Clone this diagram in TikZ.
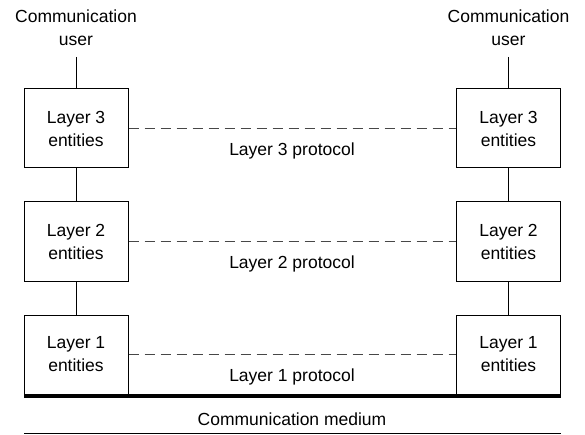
\documentclass[tikz,border=0pt]{standalone}
\usepackage{fontspec}
\setmainfont{Liberation Sans}
\begin{document}
\begin{tikzpicture}[x=1pt,y=-1pt,
  every node/.style={font=\fontsize{17.5}{23}\selectfont, align=center},
  entity/.style={draw, line width=1pt, minimum width=104pt, minimum height=79pt, inner sep=0pt},
  link/.style={line width=1pt},
  proto/.style={dashed, dash pattern=on 10pt off 6pt, line width=1.2pt, draw=black!72},
  lbl/.style={inner sep=0pt}]
\useasboundingbox (0,0) rectangle (585,435);
% boxes
\node[entity] (l3) at (76,128.5) {Layer 3\\entities};
\node[entity] (l2) at (76,241.5) {Layer 2\\entities};
\node[entity] (l1) at (76,354.5) {Layer 1\\entities};
\node[entity] (r3) at (508.5,128.5) {Layer 3\\entities};
\node[entity] (r2) at (508.5,241.5) {Layer 2\\entities};
\node[entity] (r1) at (508.5,354.5) {Layer 1\\entities};
% users
\node[lbl] (lu) at (76,27.5) {Communication\\user};
\node[lbl] (ru) at (508.5,27.5) {Communication\\user};
\coordinate (lut) at (76,57);
\coordinate (rut) at (508.5,57);
\draw[link] (lut) -- (l3.north);
\draw[link] (rut) -- (r3.north);
\draw[link] (l3) -- (l2);
\draw[link] (l2) -- (l1);
\draw[link] (r3) -- (r2);
\draw[link] (r2) -- (r1);
% protocols
\draw[proto] (l3) -- (r3);
\draw[proto] (l2) -- (r2);
\draw[proto] (l1) -- (r1);
\node[lbl] (p3) at (292,150.5) {Layer 3 protocol};
\node[lbl] (p2) at (292,263.5) {Layer 2 protocol};
\node[lbl] (p1) at (292,376.5) {Layer 1 protocol};
% medium
\coordinate (ma) at (24,396);
\coordinate (mb) at (561,396);
\coordinate (na) at (24,433.5);
\coordinate (nb) at (561,433.5);
\draw[line width=4.5pt] (ma) -- (mb);
\draw[line width=1.3pt] (na) -- (nb);
\node[lbl] (cm) at (292,419.5) {Communication medium};
\end{tikzpicture}
\end{document}
